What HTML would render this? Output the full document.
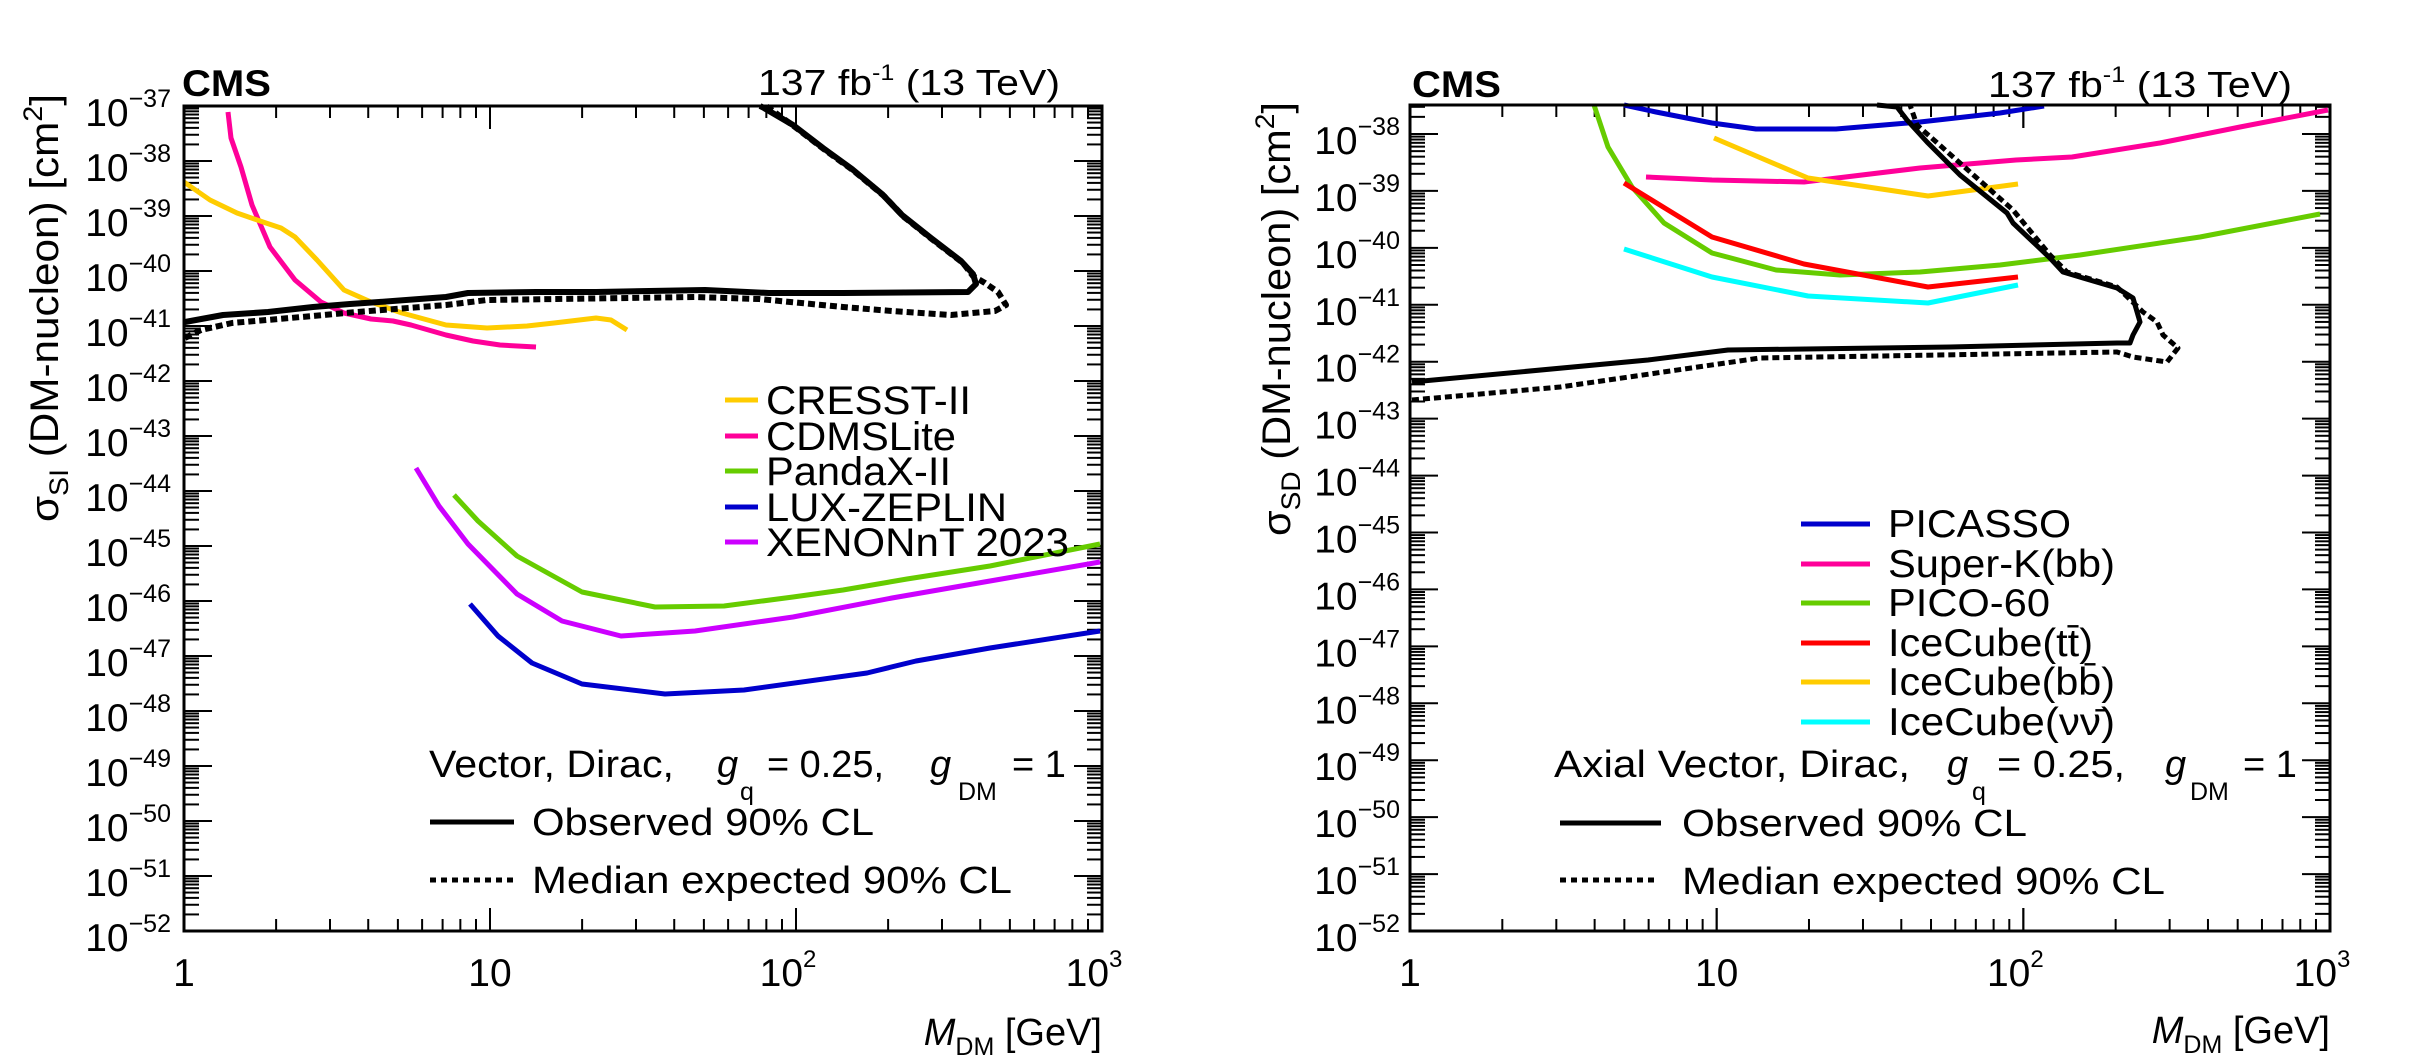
<!DOCTYPE html>
<html><head><meta charset="utf-8"><style>
html,body{margin:0;padding:0;background:#fff;}
svg{display:block;font-family:"Liberation Sans",Arial,sans-serif;}
</style></head><body>
<svg id="s" width="2435" height="1058" viewBox="0 0 2435 1058" xmlns="http://www.w3.org/2000/svg">
<rect width="2435" height="1058" fill="#fff"/>
<g id="ticks" stroke="#000" stroke-width="2" fill="none"></g>
<g id="labels" font-size="39" fill="#000"></g>

<!-- LEFT PLOT curves -->
<g fill="none" stroke-width="5" stroke-linejoin="round" stroke-linecap="butt">
<polyline stroke="#ff0099" points="228,112 231,138 241,167 252,205 270,247 295,280 321,302 344,313 371,319 393,321 411,325 446,335 473,341 500,345 536,347"/>
<polyline stroke="#ffcc00" points="184,182 210,200 237,213 263,222 281,228 295,237 317,260 344,290 371,302 402,313 446,325 487,328 527,326 554,323 596,318 611,320 627,330"/>
<polyline stroke="#cc00ff" points="416,468 439,506 468,544 517,594 562,621 621,636 695,631 793,617 892,598 990,581 1100,562"/>
<polyline stroke="#66cc00" points="454,495 478,521 517,556 582,592 655,607 724,606 793,597 843,590 907,579 990,566 1100,544"/>
<polyline stroke="#0000cc" points="470,604 498,636 532,663 582,684 665,694 744,690 867,673 916,661 990,648 1100,631"/>
<polyline stroke="#000" stroke-width="6" points="185,322 223,315 268,312 313,307 350,304 379,302 446,297 468,293 536,292 596,292 705,290 769,293 843,293 968,292 976,284 973,274 961,261 931,238 902,215 882,194 852,169 823,148 793,125 764,108 760,106"/>
<polyline stroke="#000" stroke-width="6" stroke-dasharray="7,4" points="185,338 201,330 232,323 290,318 357,312 446,305 487,300 695,297 759,299 843,307 892,311 951,315 995,311 1006,305 998,292 985,283 973,276 963,263 933,240 904,217 884,196 854,171 825,150 795,127 766,106"/>
</g>

<!-- RIGHT PLOT curves -->
<g fill="none" stroke-width="5" stroke-linejoin="round">
<polyline stroke="#0000cc" points="1624,105 1656,112 1712,123 1756,129 1836,129 1920,122 2000,113 2044,106"/>
<polyline stroke="#ff0099" points="1646,177 1712,180 1804,182 1920,168 2016,160 2072,157 2160,143 2240,127 2328,110"/>
<polyline stroke="#66cc00" points="1594,105 1608,147 1632,187 1664,223 1712,253 1776,270 1840,275 1920,272 2000,265 2080,255 2200,237 2320,214"/>
<polyline stroke="#ff0000" points="1624,183 1712,237 1804,264 1928,287 2018,277"/>
<polyline stroke="#ffcc00" points="1714,138 1808,178 1928,196 2018,184"/>
<polyline stroke="#00ffff" points="1624,249 1712,277 1808,296 1928,303 2018,285"/>
<polyline stroke="#000" stroke-width="5" points="1877,105 1897,107 1907,120 1927,142 1960,175 2007,213 2013,223 2050,258 2063,272 2083,278 2117,288 2133,298 2140,322 2133,335 2130,343 2117,343 1950,347 1728,350 1648,360 1412,382"/>
<polyline stroke="#000" stroke-width="5" stroke-dasharray="7,4" points="1412,400 1560,387 1760,358 2117,352 2133,357 2167,362 2178,348 2163,335 2157,322 2143,312 2117,287 2067,272 2050,255 2013,210 1917,125 1910,105"/>
</g>

<!-- frames -->
<rect x="184" y="106" width="918" height="825" fill="none" stroke="#000" stroke-width="3"/>
<rect x="1410" y="105" width="920" height="826" fill="none" stroke="#000" stroke-width="3"/>

<!-- top texts -->
<text x="182" y="96" font-size="37" font-weight="bold" textLength="89" lengthAdjust="spacingAndGlyphs">CMS</text>
<text x="758" y="95" font-size="36" textLength="302" lengthAdjust="spacingAndGlyphs">137 fb<tspan dy="-15" font-size="22">-1</tspan><tspan dy="15"> (13 TeV)</tspan></text>
<text x="1412" y="97" font-size="37" font-weight="bold" textLength="89" lengthAdjust="spacingAndGlyphs">CMS</text>
<text x="1988" y="97" font-size="36" textLength="304" lengthAdjust="spacingAndGlyphs">137 fb<tspan dy="-15" font-size="22">-1</tspan><tspan dy="15"> (13 TeV)</tspan></text>

<!-- y titles -->
<text transform="translate(58,522) rotate(-90)" font-size="40" textLength="428" lengthAdjust="spacingAndGlyphs">σ<tspan dy="10" font-size="27">SI</tspan><tspan dy="-10"> (DM-nucleon) [cm</tspan><tspan dy="-16" font-size="27">2</tspan><tspan dy="16">]</tspan></text>
<text transform="translate(1290,536) rotate(-90)" font-size="40" textLength="434" lengthAdjust="spacingAndGlyphs">σ<tspan dy="10" font-size="27">SD</tspan><tspan dy="-10"> (DM-nucleon) [cm</tspan><tspan dy="-16" font-size="27">2</tspan><tspan dy="16">]</tspan></text>

<!-- x titles -->
<text x="1102" y="1045" font-size="38" text-anchor="end"><tspan font-style="italic">M</tspan><tspan dy="10" font-size="25">DM</tspan><tspan dy="-10"> [GeV]</tspan></text>
<text x="2330" y="1043" font-size="38" text-anchor="end"><tspan font-style="italic">M</tspan><tspan dy="10" font-size="25">DM</tspan><tspan dy="-10"> [GeV]</tspan></text>

<!-- left legend -->
<g font-size="40">
<line x1="725" y1="400" x2="758" y2="400" stroke="#ffcc00" stroke-width="5"/>
<text x="766" y="414" textLength="205" lengthAdjust="spacingAndGlyphs">CRESST-II</text>
<line x1="725" y1="436" x2="758" y2="436" stroke="#ff0099" stroke-width="5"/>
<text x="766" y="450" textLength="190" lengthAdjust="spacingAndGlyphs">CDMSLite</text>
<line x1="725" y1="471" x2="758" y2="471" stroke="#66cc00" stroke-width="5"/>
<text x="766" y="485" textLength="185" lengthAdjust="spacingAndGlyphs">PandaX-II</text>
<line x1="725" y1="507" x2="758" y2="507" stroke="#0000cc" stroke-width="5"/>
<text x="766" y="521" textLength="241" lengthAdjust="spacingAndGlyphs">LUX-ZEPLIN</text>
<line x1="725" y1="542" x2="758" y2="542" stroke="#cc00ff" stroke-width="5"/>
<text x="766" y="556" textLength="303" lengthAdjust="spacingAndGlyphs">XENONnT 2023</text>
</g>

<!-- right legend -->
<g font-size="39">
<line x1="1801" y1="524" x2="1870" y2="524" stroke="#0000cc" stroke-width="5"/>
<text x="1888" y="537" textLength="183" lengthAdjust="spacingAndGlyphs">PICASSO</text>
<line x1="1801" y1="564" x2="1870" y2="564" stroke="#ff0099" stroke-width="5"/>
<text x="1888" y="577" textLength="227" lengthAdjust="spacingAndGlyphs">Super-K(bb)</text>
<line x1="1801" y1="603" x2="1870" y2="603" stroke="#66cc00" stroke-width="5"/>
<text x="1888" y="616" textLength="162" lengthAdjust="spacingAndGlyphs">PICO-60</text>
<line x1="1801" y1="643" x2="1870" y2="643" stroke="#ff0000" stroke-width="5"/>
<text x="1888" y="656" textLength="205" lengthAdjust="spacingAndGlyphs">IceCube(tt̄)</text>
<line x1="1801" y1="682" x2="1870" y2="682" stroke="#ffcc00" stroke-width="5"/>
<text x="1888" y="695" textLength="227" lengthAdjust="spacingAndGlyphs">IceCube(bb̄)</text>
<line x1="1801" y1="722" x2="1870" y2="722" stroke="#00ffff" stroke-width="5"/>
<text x="1888" y="735" textLength="227" lengthAdjust="spacingAndGlyphs">IceCube(νν̄)</text>
</g>

<!-- bottom legends -->
<g font-size="38">
<text x="429" y="777" textLength="245" lengthAdjust="spacingAndGlyphs">Vector, Dirac,</text>
<text x="717" y="777" font-style="italic">g</text><text x="740" y="800" font-size="25">q</text>
<text x="767" y="777" textLength="117" lengthAdjust="spacingAndGlyphs">= 0.25,</text>
<text x="930" y="777" font-style="italic">g</text><text x="958" y="800" font-size="25">DM</text>
<text x="1012" y="777">= 1</text>
<line x1="430" y1="822" x2="514" y2="822" stroke="#000" stroke-width="5"/>
<text x="532" y="835" textLength="342" lengthAdjust="spacingAndGlyphs">Observed 90% CL</text>
<line x1="430" y1="880" x2="514" y2="880" stroke="#000" stroke-width="5" stroke-dasharray="6,5"/>
<text x="532" y="893" textLength="480" lengthAdjust="spacingAndGlyphs">Median expected 90% CL</text>

<text x="1554" y="777" textLength="356" lengthAdjust="spacingAndGlyphs">Axial Vector, Dirac,</text>
<text x="1947" y="777" font-style="italic">g</text><text x="1972" y="800" font-size="25">q</text>
<text x="1997" y="777" textLength="128" lengthAdjust="spacingAndGlyphs">= 0.25,</text>
<text x="2165" y="777" font-style="italic">g</text><text x="2190" y="800" font-size="25">DM</text>
<text x="2243" y="777">= 1</text>
<line x1="1560" y1="823" x2="1661" y2="823" stroke="#000" stroke-width="5"/>
<text x="1682" y="836" textLength="345" lengthAdjust="spacingAndGlyphs">Observed 90% CL</text>
<line x1="1560" y1="880" x2="1655" y2="880" stroke="#000" stroke-width="5" stroke-dasharray="6,5"/>
<text x="1682" y="894" textLength="483" lengthAdjust="spacingAndGlyphs">Median expected 90% CL</text>
</g>
</svg>
<script>
(function(){
var NS="http://www.w3.org/2000/svg";
var T=document.getElementById("ticks"),L=document.getElementById("labels");
function ln(x1,y1,x2,y2){var e=document.createElementNS(NS,"line");e.setAttribute("x1",x1);e.setAttribute("y1",y1);e.setAttribute("x2",x2);e.setAttribute("y2",y2);T.appendChild(e);}
function txt(x,y,anchor,main,sup,fs,sfs){var t=document.createElementNS(NS,"text");t.setAttribute("x",x);t.setAttribute("y",y);t.setAttribute("text-anchor",anchor);t.setAttribute("font-size",fs);t.appendChild(document.createTextNode(main));if(sup){var s=document.createElementNS(NS,"tspan");s.setAttribute("dy",-19);s.setAttribute("font-size",sfs);s.textContent=sup;t.appendChild(s);}L.appendChild(t);}
function plot(x0,x1,ytop,ybot,eTop,eBot,lblX){
  var dec=(x1-x0)/3;
  // x ticks
  for(var d=0;d<3;d++)for(var k=1;k<=10;k++){
    var x=x0+dec*(d+Math.log10(k));var len=(k==1||k==10)?23:12;
    ln(x,ybot,x,ybot-len);ln(x,ytop,x,ytop+len);
  }
  var xl=["1","10","10","10"],xs=["","","2","3"];
  for(var i=0;i<4;i++){txt(x0+dec*i+(i>1?-8:0),986,"middle",xl[i],xs[i],39,24);}
  // y ticks
  var dy=(ybot-ytop)/(eTop-eBot);
  for(var e=-52;e<=-37;e++){
    for(var k=1;k<10;k++){
      var y=ybot-dy*((e+52)+Math.log10(k));if(y<ytop-0.5)continue;
      var len=(k==1)?28:15;
      ln(x0,y,x0+len,y);ln(x1,y,x1-len,y);
    }
    var yy=ybot-dy*(e+52);
    if(yy>=ytop-8) txt(lblX,yy+20,"end","10","\u2212"+(-e),39,25);
  }
}
plot(184,1102,106,931,-37,-52,171);
// right plot: -52 at 931, -38 at 134
(function(){
  var x0=1410,x1=2330,ytop=105,ybot=931,dy=(931-134)/14,dec=(x1-x0)/3;
  for(var d=0;d<3;d++)for(var k=1;k<=10;k++){
    var x=x0+dec*(d+Math.log10(k));var len=(k==1||k==10)?23:12;
    ln(x,ybot,x,ybot-len);ln(x,ytop,x,ytop+len);
  }
  var xl=["1","10","10","10"],xs=["","","2","3"];
  for(var i=0;i<4;i++){txt(x0+dec*i+(i>1?-8:0),986,"middle",xl[i],xs[i],39,24);}
  for(var e=-52;e<=-37;e++){
    for(var k=1;k<10;k++){
      var y=ybot-dy*((e+52)+Math.log10(k));if(y<ytop)continue;
      var len=(k==1)?28:15;
      ln(x0,y,x0+len,y);ln(x1,y,x1-len,y);
    }
    var yy=ybot-dy*(e+52);
    if(yy>=ytop) txt(1400,yy+20,"end","10","\u2212"+(-e),39,25);
  }
})();
})();
</script>
</body></html>
